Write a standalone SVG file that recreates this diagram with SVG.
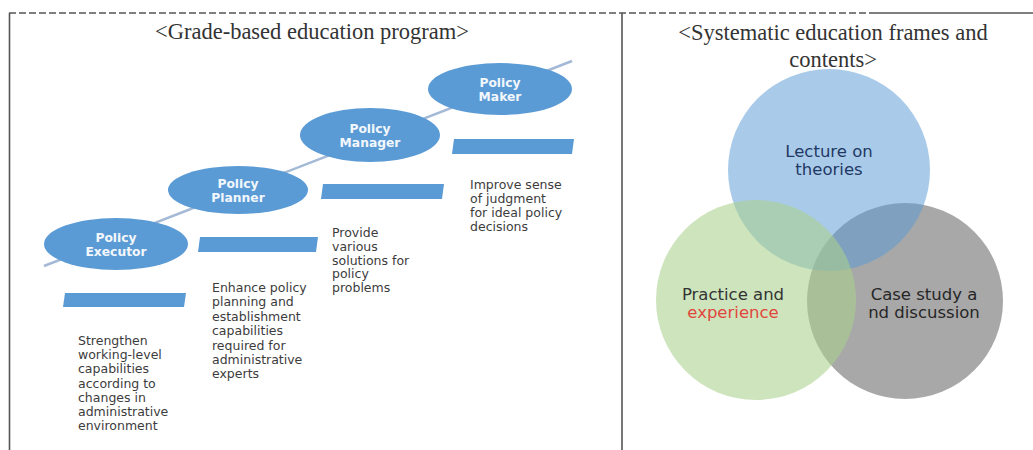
<svg xmlns="http://www.w3.org/2000/svg" width="1033" height="450" viewBox="0 0 1033 450">
<style>
.frame{stroke:#555;stroke-width:1.6;fill:none}
.ell{fill:#5b9bd5}
.bar{fill:#5b9bd5}
.etxt{font-family:"DejaVu Sans",Verdana,sans-serif;font-weight:bold;font-size:12.3px;fill:#f2f7fc;text-anchor:middle}
.body{font-family:"DejaVu Sans",Verdana,sans-serif;font-size:12.5px;fill:#3c3c3c}
.title{font-family:"Liberation Serif","Times New Roman",serif;fill:#333;font-size:22.5px;text-anchor:middle}
.vtxt{font-family:"DejaVu Sans",Verdana,sans-serif;font-size:16.5px;text-anchor:middle}
</style>
<rect x="0" y="0" width="1033" height="450" fill="#fff"/>
<g id="frame">
<line class="frame" x1="9" y1="13" x2="870" y2="13" stroke-dasharray="7 3"/>
<line class="frame" x1="870" y1="13" x2="1033" y2="13"/>
<line class="frame" x1="9.5" y1="13" x2="9.5" y2="450"/>
<line class="frame" x1="622" y1="13" x2="622" y2="450"/>
</g>
<text id="title-left" class="title" x="312" y="39">&lt;Grade-based education program&gt;</text>
<text id="title-right" class="title" x="833" y="40">&lt;Systematic education frames and<tspan x="833" y="67">contents&gt;</tspan></text>
<g id="connectors">
<line x1="44" y1="266" x2="572" y2="61" stroke="#a3b9d6" stroke-width="2.5"/>
</g>
<g id="executor">
<ellipse class="ell" cx="116" cy="244" rx="72" ry="26"/>
<text class="etxt" x="116" y="242">Policy<tspan x="116" y="256">Executor</tspan></text>
</g>
<g id="planner">
<ellipse class="ell" cx="238" cy="190" rx="70" ry="24"/>
<text class="etxt" x="238" y="188">Policy<tspan x="238" y="202">Planner</tspan></text>
</g>
<g id="manager">
<ellipse class="ell" cx="370" cy="135" rx="70" ry="27"/>
<text class="etxt" x="370" y="133">Policy<tspan x="370" y="147">Manager</tspan></text>
</g>
<g id="maker">
<ellipse class="ell" cx="500" cy="89" rx="72" ry="26"/>
<text class="etxt" x="500" y="87">Policy<tspan x="500" y="101">Maker</tspan></text>
</g>
<g id="bar-executor"><polygon class="bar" points="65,293 186,293 184,307 63,307"/></g>
<g id="bar-planner"><polygon class="bar" points="200,237 318,237 316,252 198,252"/></g>
<g id="bar-manager"><polygon class="bar" points="323,184 444,184 442,199 321,199"/></g>
<g id="bar-maker"><polygon class="bar" points="454,139 574,139 572,154 452,154"/></g>
<g id="desc-executor">
<text class="body" x="78" y="345">Strengthen<tspan x="78" y="359.2">working-level</tspan><tspan x="78" y="373.4">capabilities</tspan><tspan x="78" y="387.6">according to</tspan><tspan x="78" y="401.8">changes in</tspan><tspan x="78" y="416">administrative</tspan><tspan x="78" y="430.2">environment</tspan></text>
</g>
<g id="desc-planner">
<text class="body" x="212" y="292">Enhance policy<tspan x="212" y="306.4">planning and</tspan><tspan x="212" y="320.8">establishment</tspan><tspan x="212" y="335.2">capabilities</tspan><tspan x="212" y="349.6">required for</tspan><tspan x="212" y="364">administrative</tspan><tspan x="212" y="378.4">experts</tspan></text>
</g>
<g id="desc-manager">
<text class="body" x="332" y="237">Provide<tspan x="332" y="250.8">various</tspan><tspan x="332" y="264.6">solutions for</tspan><tspan x="332" y="278.4">policy</tspan><tspan x="332" y="292.2">problems</tspan></text>
</g>
<g id="desc-maker">
<text class="body" x="470" y="189">Improve sense<tspan x="470" y="203">of judgment</tspan><tspan x="470" y="217">for ideal policy</tspan><tspan x="470" y="231">decisions</tspan></text>
</g>
<g id="case">
<circle cx="905" cy="301" r="98" fill="#7f7f7f" fill-opacity="0.68"/>
</g>
<g id="lecture">
<circle cx="829" cy="170" r="101" fill="#5b9bd5" fill-opacity="0.52"/>
</g>
<g id="practice">
<circle cx="756" cy="300" r="100" fill="#a9d18e" fill-opacity="0.58"/>
</g>
<text class="vtxt" x="829" y="157" fill="#1f3864">Lecture on<tspan x="829" y="175">theories</tspan></text>
<text class="vtxt" x="733" y="300" fill="#333">Practice and<tspan x="733" y="318" fill="#e2463c">experience</tspan></text>
<text class="vtxt" x="924" y="300" fill="#262626">Case study a<tspan x="924" y="318">nd discussion</tspan></text>
</svg>
